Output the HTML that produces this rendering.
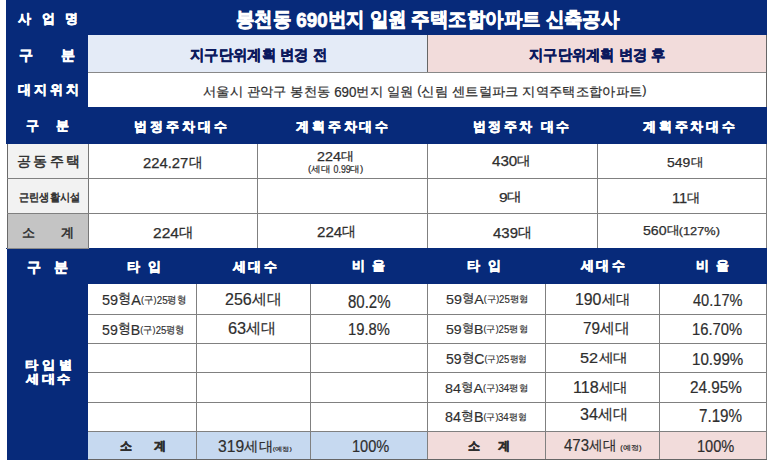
<!DOCTYPE html>
<html><head><meta charset="utf-8"><style>
html,body{margin:0;padding:0;}
body{width:773px;height:464px;overflow:hidden;position:relative;background:#fff;font-family:"Liberation Sans",sans-serif;}
.b{position:absolute;}
.t{position:absolute;white-space:nowrap;line-height:1;transform-origin:0 0;}

</style></head><body>
<div class="b" style="left:6px;top:0px;width:761px;height:460px;background:#072A7A"></div>
<div class="b" style="left:88px;top:35px;width:339px;height:37px;background:#E4EBF7"></div>
<div class="b" style="left:427px;top:35px;width:340px;height:37px;background:#F2DCDB"></div>
<div class="b" style="left:88px;top:72px;width:679px;height:35px;background:#FFFFFF"></div>
<div class="b" style="left:7px;top:144px;width:81px;height:69px;background:#F2F2F2"></div>
<div class="b" style="left:7px;top:213px;width:81px;height:35px;background:#C4C4C4"></div>
<div class="b" style="left:88px;top:144px;width:679px;height:104px;background:#FFFFFF"></div>
<div class="b" style="left:88px;top:284px;width:679px;height:147px;background:#FFFFFF"></div>
<div class="b" style="left:88px;top:431px;width:339px;height:28px;background:#C6D9F0"></div>
<div class="b" style="left:427px;top:431px;width:340px;height:28px;background:#F2DCDB"></div>
<div class="b" style="left:427px;top:35px;width:1px;height:37px;background:#666"></div>
<div class="b" style="left:88px;top:72px;width:679px;height:1px;background:#888"></div>
<div class="b" style="left:766px;top:35px;width:1px;height:72px;background:#666"></div>
<div class="b" style="left:257px;top:144px;width:1px;height:104px;background:#808080"></div>
<div class="b" style="left:427px;top:144px;width:1px;height:104px;background:#808080"></div>
<div class="b" style="left:597px;top:144px;width:1px;height:104px;background:#808080"></div>
<div class="b" style="left:766px;top:144px;width:1px;height:104px;background:#808080"></div>
<div class="b" style="left:6px;top:144px;width:1px;height:104px;background:#FFFFFF"></div>
<div class="b" style="left:6px;top:249px;width:1px;height:211px;background:#FFFFFF"></div>
<div class="b" style="left:7px;top:144px;width:1px;height:104px;background:#6a6a6a"></div>
<div class="b" style="left:88px;top:144px;width:1px;height:104px;background:#777"></div>
<div class="b" style="left:7px;top:248px;width:82px;height:1px;background:#8a8a8a"></div>
<div class="b" style="left:7px;top:178px;width:760px;height:1px;background:#808080"></div>
<div class="b" style="left:7px;top:213px;width:760px;height:1px;background:#808080"></div>
<div class="b" style="left:196px;top:284px;width:1px;height:175px;background:#808080"></div>
<div class="b" style="left:310px;top:284px;width:1px;height:175px;background:#808080"></div>
<div class="b" style="left:427px;top:284px;width:1px;height:175px;background:#808080"></div>
<div class="b" style="left:545px;top:284px;width:1px;height:175px;background:#808080"></div>
<div class="b" style="left:659px;top:284px;width:1px;height:175px;background:#808080"></div>
<div class="b" style="left:766px;top:284px;width:1px;height:176px;background:#808080"></div>
<div class="b" style="left:88px;top:314px;width:679px;height:1px;background:#808080"></div>
<div class="b" style="left:88px;top:343px;width:679px;height:1px;background:#808080"></div>
<div class="b" style="left:88px;top:372px;width:679px;height:1px;background:#808080"></div>
<div class="b" style="left:88px;top:402px;width:679px;height:1px;background:#808080"></div>
<div class="b" style="left:88px;top:431px;width:679px;height:1px;background:#808080"></div>
<div class="b" style="left:88px;top:459px;width:679px;height:1px;background:#666"></div>
<div class="t" style="left:18px;top:12px;font-size:13.30px;font-weight:700;color:#FFFFFF;letter-spacing:3.51px;transform:scaleX(1.0000);-webkit-text-stroke:0.55px #FFFFFF;">사 업 명</div>
<div class="t" style="left:236px;top:10px;font-size:19.58px;font-weight:700;color:#FFFFFF;letter-spacing:0.00px;transform:scaleX(0.9219);-webkit-text-stroke:0.8px #FFFFFF;">봉천동 <span style="font-size:1.04em;vertical-align:-0.070em">690</span>번지 일원 주택조합아파트 신축공사</div>
<div class="t" style="left:19px;top:49px;font-size:13.63px;font-weight:700;color:#FFFFFF;letter-spacing:12.19px;transform:scaleX(1.0000);-webkit-text-stroke:0.55px #FFFFFF;">구 분</div>
<div class="t" style="left:190px;top:48px;font-size:14.89px;font-weight:700;color:#0C1A5E;letter-spacing:0.00px;transform:scaleX(0.9559);-webkit-text-stroke:0.45px #0C1A5E;">지구단위계획 변경 전</div>
<div class="t" style="left:529px;top:47px;font-size:15.11px;font-weight:700;color:#0C1A5E;letter-spacing:0.00px;transform:scaleX(0.9525);-webkit-text-stroke:0.45px #0C1A5E;">지구단위계획 변경 후</div>
<div class="t" style="left:18px;top:83px;font-size:13.33px;font-weight:700;color:#FFFFFF;letter-spacing:2.93px;transform:scaleX(1.0000);-webkit-text-stroke:0.55px #FFFFFF;">대지위치</div>
<div class="t" style="left:203px;top:84px;font-size:13.16px;font-weight:400;color:#2E2E2E;letter-spacing:0.00px;transform:scaleX(1.0249);-webkit-text-stroke:0.2px #2E2E2E;">서울시 관악구 봉천동 <span style="display:inline-block;font-size:1.1em;vertical-align:-0.082em;transform:scaleX(0.9);transform-origin:0 0;margin-right:-0.167em">690</span>번지 일원 <span style="font-size:0.95em;vertical-align:0.147em">(</span>신림 센트럴파크 지역주택조합아파트<span style="font-size:0.95em;vertical-align:0.147em">)</span></div>
<div class="t" style="left:26px;top:119px;font-size:13.08px;font-weight:700;color:#FFFFFF;letter-spacing:6.68px;transform:scaleX(1.0000);-webkit-text-stroke:0.55px #FFFFFF;">구 분</div>
<div class="t" style="left:134px;top:120px;font-size:13.30px;font-weight:700;color:#FFFFFF;letter-spacing:2.98px;transform:scaleX(1.0000);-webkit-text-stroke:0.55px #FFFFFF;">법정주차대수</div>
<div class="t" style="left:296px;top:120px;font-size:13.30px;font-weight:700;color:#FFFFFF;letter-spacing:2.87px;transform:scaleX(1.0000);-webkit-text-stroke:0.55px #FFFFFF;">계획주차대수</div>
<div class="t" style="left:473px;top:120px;font-size:13.30px;font-weight:700;color:#FFFFFF;letter-spacing:2.45px;transform:scaleX(1.0000);-webkit-text-stroke:0.55px #FFFFFF;">법정주차 대수</div>
<div class="t" style="left:643px;top:120px;font-size:13.30px;font-weight:700;color:#FFFFFF;letter-spacing:2.81px;transform:scaleX(1.0000);-webkit-text-stroke:0.55px #FFFFFF;">계획주차대수</div>
<div class="t" style="left:17px;top:155px;font-size:13.74px;font-weight:400;color:#2E2E2E;letter-spacing:2.25px;transform:scaleX(1.0000);-webkit-text-stroke:0.5px #2E2E2E;">공동주택</div>
<div class="t" style="left:143px;top:156px;font-size:12.04px;font-weight:400;color:#2E2E2E;letter-spacing:0.00px;transform:scaleX(1.2299);-webkit-text-stroke:0.25px #2E2E2E;"><span style="display:inline-block;font-size:1.22em;vertical-align:-0.074em;transform:scaleX(0.82);transform-origin:0 0;margin-right:-0.550em">224.27</span><span style="display:inline-block;font-size:1.15em;vertical-align:-0.03em;transform:scaleX(0.8);transform-origin:0 0;margin-right:-0.200em">대</span></div>
<div class="t" style="left:317px;top:150px;font-size:10.58px;font-weight:400;color:#2E2E2E;letter-spacing:0.00px;transform:scaleX(1.3520);-webkit-text-stroke:0.25px #2E2E2E;"><span style="display:inline-block;font-size:1.22em;vertical-align:-0.074em;transform:scaleX(0.82);transform-origin:0 0;margin-right:-0.300em">224</span><span style="display:inline-block;font-size:1.15em;vertical-align:-0.03em;transform:scaleX(0.8);transform-origin:0 0;margin-right:-0.200em">대</span></div>
<div class="t" style="left:308px;top:165px;font-size:9.17px;font-weight:400;color:#2E2E2E;letter-spacing:0.00px;transform:scaleX(1.0659);-webkit-text-stroke:0.2px #2E2E2E;">(세대 <span style="display:inline-block;font-size:1.1em;vertical-align:-0.082em;transform:scaleX(0.82);transform-origin:0 0;margin-right:-0.350em">0.99</span>대)</div>
<div class="t" style="left:492px;top:154px;font-size:11.65px;font-weight:400;color:#2E2E2E;letter-spacing:0.00px;transform:scaleX(1.3012);-webkit-text-stroke:0.25px #2E2E2E;"><span style="display:inline-block;font-size:1.22em;vertical-align:-0.074em;transform:scaleX(0.82);transform-origin:0 0;margin-right:-0.300em">430</span><span style="display:inline-block;font-size:1.15em;vertical-align:-0.03em;transform:scaleX(0.8);transform-origin:0 0;margin-right:-0.200em">대</span></div>
<div class="t" style="left:667px;top:156px;font-size:10.58px;font-weight:400;color:#2E2E2E;letter-spacing:0.00px;transform:scaleX(1.3178);-webkit-text-stroke:0.25px #2E2E2E;"><span style="display:inline-block;font-size:1.22em;vertical-align:-0.074em;transform:scaleX(0.82);transform-origin:0 0;margin-right:-0.300em">549</span><span style="display:inline-block;font-size:1.15em;vertical-align:-0.03em;transform:scaleX(0.8);transform-origin:0 0;margin-right:-0.200em">대</span></div>
<div class="t" style="left:19px;top:192px;font-size:11.00px;font-weight:400;color:#2E2E2E;letter-spacing:0.00px;transform:scaleX(0.9248);-webkit-text-stroke:0.5px #2E2E2E;">근린생활시설</div>
<div class="t" style="left:499px;top:191px;font-size:11.07px;font-weight:400;color:#2E2E2E;letter-spacing:0.00px;transform:scaleX(1.4100);-webkit-text-stroke:0.25px #2E2E2E;"><span style="display:inline-block;font-size:1.22em;vertical-align:-0.074em;transform:scaleX(0.82);transform-origin:0 0;margin-right:-0.100em">9</span><span style="display:inline-block;font-size:1.15em;vertical-align:-0.03em;transform:scaleX(0.8);transform-origin:0 0;margin-right:-0.200em">대</span></div>
<div class="t" style="left:672px;top:191px;font-size:11.55px;font-weight:400;color:#2E2E2E;letter-spacing:0.00px;transform:scaleX(1.2696);-webkit-text-stroke:0.25px #2E2E2E;"><span style="display:inline-block;font-size:1.22em;vertical-align:-0.074em;transform:scaleX(0.82);transform-origin:0 0;margin-right:-0.200em">11</span><span style="display:inline-block;font-size:1.15em;vertical-align:-0.03em;transform:scaleX(0.8);transform-origin:0 0;margin-right:-0.200em">대</span></div>
<div class="t" style="left:22px;top:227px;font-size:12.67px;font-weight:400;color:#2E2E2E;letter-spacing:11.18px;transform:scaleX(1.0000);-webkit-text-stroke:0.5px #2E2E2E;">소 계</div>
<div class="t" style="left:153px;top:226px;font-size:12.04px;font-weight:400;color:#2E2E2E;letter-spacing:0.00px;transform:scaleX(1.2927);-webkit-text-stroke:0.25px #2E2E2E;"><span style="display:inline-block;font-size:1.22em;vertical-align:-0.074em;transform:scaleX(0.82);transform-origin:0 0;margin-right:-0.300em">224</span><span style="display:inline-block;font-size:1.15em;vertical-align:-0.03em;transform:scaleX(0.8);transform-origin:0 0;margin-right:-0.200em">대</span></div>
<div class="t" style="left:317px;top:225px;font-size:12.14px;font-weight:400;color:#2E2E2E;letter-spacing:0.00px;transform:scaleX(1.2474);-webkit-text-stroke:0.25px #2E2E2E;"><span style="display:inline-block;font-size:1.22em;vertical-align:-0.074em;transform:scaleX(0.82);transform-origin:0 0;margin-right:-0.300em">224</span><span style="display:inline-block;font-size:1.15em;vertical-align:-0.03em;transform:scaleX(0.8);transform-origin:0 0;margin-right:-0.200em">대</span></div>
<div class="t" style="left:493px;top:226px;font-size:12.04px;font-weight:400;color:#2E2E2E;letter-spacing:0.00px;transform:scaleX(1.2433);-webkit-text-stroke:0.25px #2E2E2E;"><span style="display:inline-block;font-size:1.22em;vertical-align:-0.074em;transform:scaleX(0.82);transform-origin:0 0;margin-right:-0.300em">439</span><span style="display:inline-block;font-size:1.15em;vertical-align:-0.03em;transform:scaleX(0.8);transform-origin:0 0;margin-right:-0.200em">대</span></div>
<div class="t" style="left:643px;top:224px;font-size:10.70px;font-weight:400;color:#2E2E2E;letter-spacing:0.00px;transform:scaleX(1.3235);-webkit-text-stroke:0.25px #2E2E2E;"><span style="display:inline-block;font-size:1.22em;vertical-align:-0.074em;transform:scaleX(0.82);transform-origin:0 0;margin-right:-0.300em">560</span><span style="display:inline-block;font-size:1.15em;vertical-align:-0.03em;transform:scaleX(0.8);transform-origin:0 0;margin-right:-0.200em">대</span><span style="display:inline-block;font-size:1.1em;vertical-align:-0.082em;transform:scaleX(0.82);transform-origin:0 0;margin-right:-0.580em">(127%)</span></div>
<div class="t" style="left:27px;top:261px;font-size:13.63px;font-weight:700;color:#FFFFFF;letter-spacing:4.81px;transform:scaleX(1.0000);-webkit-text-stroke:0.55px #FFFFFF;">구 분</div>
<div class="t" style="left:127px;top:260px;font-size:13.19px;font-weight:700;color:#FFFFFF;letter-spacing:2.40px;transform:scaleX(1.0000);-webkit-text-stroke:0.55px #FFFFFF;">타 입</div>
<div class="t" style="left:233px;top:260px;font-size:13.33px;font-weight:700;color:#FFFFFF;letter-spacing:2.27px;transform:scaleX(1.0000);-webkit-text-stroke:0.55px #FFFFFF;">세대수</div>
<div class="t" style="left:352px;top:259px;font-size:13.33px;font-weight:700;color:#FFFFFF;letter-spacing:1.48px;transform:scaleX(1.0000);-webkit-text-stroke:0.55px #FFFFFF;">비 율</div>
<div class="t" style="left:467px;top:260px;font-size:12.66px;font-weight:700;color:#FFFFFF;letter-spacing:2.00px;transform:scaleX(1.0000);-webkit-text-stroke:0.55px #FFFFFF;">타 입</div>
<div class="t" style="left:581px;top:259px;font-size:13.33px;font-weight:700;color:#FFFFFF;letter-spacing:2.27px;transform:scaleX(1.0000);-webkit-text-stroke:0.55px #FFFFFF;">세대수</div>
<div class="t" style="left:696px;top:259px;font-size:13.33px;font-weight:700;color:#FFFFFF;letter-spacing:1.48px;transform:scaleX(1.0000);-webkit-text-stroke:0.55px #FFFFFF;">비 율</div>
<div class="t" style="left:25px;top:359px;font-size:12.02px;font-weight:700;color:#FFFFFF;letter-spacing:3.29px;transform:scaleX(1.1000);-webkit-text-stroke:0.55px #FFFFFF;">타입별</div>
<div class="t" style="left:26px;top:373px;font-size:12.15px;font-weight:700;color:#FFFFFF;letter-spacing:2.22px;transform:scaleX(1.1000);-webkit-text-stroke:0.55px #FFFFFF;">세대수</div>
<div class="t" style="left:102px;top:292px;font-size:13.67px;font-weight:400;color:#2E2E2E;letter-spacing:0.00px;transform:scaleX(0.9460);-webkit-text-stroke:0.15px #2E2E2E;"><span style="font-size:1.12em;vertical-align:-0.116em">59</span>형<span style="font-size:1.12em;vertical-align:-0.116em">A</span><span style="font-size:0.7em">(구)<span style="display:inline-block;font-size:1.2em;vertical-align:-0.075em;transform:scaleX(0.9);transform-origin:0 0;margin-right:-0.111em">25</span>평형</span></div>
<div class="t" style="left:225px;top:291px;font-size:13.74px;font-weight:400;color:#2E2E2E;letter-spacing:0.00px;transform:scaleX(1.1647);-webkit-text-stroke:0.2px #2E2E2E;"><span style="display:inline-block;font-size:1.22em;vertical-align:-0.074em;transform:scaleX(0.82);transform-origin:0 0;margin-right:-0.300em">256</span><span style="display:inline-block;font-size:1.1em;vertical-align:-0.03em;transform:scaleX(0.85);transform-origin:0 0;margin-right:-0.300em">세대</span></div>
<div class="t" style="left:348px;top:294px;font-size:17.46px;font-weight:400;color:#2E2E2E;letter-spacing:0.00px;transform:scaleX(0.8611);-webkit-text-stroke:0.2px #2E2E2E;">80.2%</div>
<div class="t" style="left:446px;top:292px;font-size:12.22px;font-weight:400;color:#2E2E2E;letter-spacing:0.00px;transform:scaleX(1.0416);-webkit-text-stroke:0.15px #2E2E2E;"><span style="font-size:1.12em;vertical-align:-0.116em">59</span>형<span style="font-size:1.12em;vertical-align:-0.116em">A</span><span style="font-size:0.7em">(구)<span style="display:inline-block;font-size:1.2em;vertical-align:-0.075em;transform:scaleX(0.9);transform-origin:0 0;margin-right:-0.111em">25</span>평형</span></div>
<div class="t" style="left:575px;top:292px;font-size:13.13px;font-weight:400;color:#2E2E2E;letter-spacing:0.00px;transform:scaleX(1.2075);-webkit-text-stroke:0.2px #2E2E2E;"><span style="display:inline-block;font-size:1.22em;vertical-align:-0.074em;transform:scaleX(0.82);transform-origin:0 0;margin-right:-0.300em">190</span><span style="display:inline-block;font-size:1.1em;vertical-align:-0.03em;transform:scaleX(0.85);transform-origin:0 0;margin-right:-0.300em">세대</span></div>
<div class="t" style="left:693px;top:293px;font-size:16.62px;font-weight:400;color:#2E2E2E;letter-spacing:0.00px;transform:scaleX(0.8789);-webkit-text-stroke:0.2px #2E2E2E;">40.17%</div>
<div class="t" style="left:102px;top:322px;font-size:13.67px;font-weight:400;color:#2E2E2E;letter-spacing:0.00px;transform:scaleX(0.9264);-webkit-text-stroke:0.15px #2E2E2E;"><span style="font-size:1.12em;vertical-align:-0.116em">59</span>형<span style="font-size:1.12em;vertical-align:-0.116em">B</span><span style="font-size:0.7em">(구)<span style="display:inline-block;font-size:1.2em;vertical-align:-0.075em;transform:scaleX(0.9);transform-origin:0 0;margin-right:-0.111em">25</span>평형</span></div>
<div class="t" style="left:228px;top:320px;font-size:13.84px;font-weight:400;color:#2E2E2E;letter-spacing:0.00px;transform:scaleX(1.1798);-webkit-text-stroke:0.2px #2E2E2E;"><span style="display:inline-block;font-size:1.22em;vertical-align:-0.074em;transform:scaleX(0.82);transform-origin:0 0;margin-right:-0.200em">63</span><span style="display:inline-block;font-size:1.1em;vertical-align:-0.03em;transform:scaleX(0.85);transform-origin:0 0;margin-right:-0.300em">세대</span></div>
<div class="t" style="left:348px;top:322px;font-size:16.76px;font-weight:400;color:#2E2E2E;letter-spacing:0.00px;transform:scaleX(0.8804);-webkit-text-stroke:0.2px #2E2E2E;">19.8%</div>
<div class="t" style="left:446px;top:322px;font-size:12.22px;font-weight:400;color:#2E2E2E;letter-spacing:0.00px;transform:scaleX(1.0316);-webkit-text-stroke:0.15px #2E2E2E;"><span style="font-size:1.12em;vertical-align:-0.116em">59</span>형<span style="font-size:1.12em;vertical-align:-0.116em">B</span><span style="font-size:0.7em">(구)<span style="display:inline-block;font-size:1.2em;vertical-align:-0.075em;transform:scaleX(0.9);transform-origin:0 0;margin-right:-0.111em">25</span>평형</span></div>
<div class="t" style="left:583px;top:320px;font-size:13.23px;font-weight:400;color:#2E2E2E;letter-spacing:0.00px;transform:scaleX(1.1564);-webkit-text-stroke:0.2px #2E2E2E;"><span style="display:inline-block;font-size:1.22em;vertical-align:-0.074em;transform:scaleX(0.82);transform-origin:0 0;margin-right:-0.200em">79</span><span style="display:inline-block;font-size:1.1em;vertical-align:-0.03em;transform:scaleX(0.85);transform-origin:0 0;margin-right:-0.300em">세대</span></div>
<div class="t" style="left:692px;top:322px;font-size:15.92px;font-weight:400;color:#2E2E2E;letter-spacing:0.00px;transform:scaleX(0.9309);-webkit-text-stroke:0.2px #2E2E2E;">16.70%</div>
<div class="t" style="left:446px;top:352px;font-size:12.89px;font-weight:400;color:#2E2E2E;letter-spacing:0.00px;transform:scaleX(0.9748);-webkit-text-stroke:0.15px #2E2E2E;"><span style="font-size:1.12em;vertical-align:-0.116em">59</span>형<span style="font-size:1.12em;vertical-align:-0.116em">C</span><span style="font-size:0.7em">(구)<span style="display:inline-block;font-size:1.2em;vertical-align:-0.075em;transform:scaleX(0.9);transform-origin:0 0;margin-right:-0.111em">25</span>평형</span></div>
<div class="t" style="left:580px;top:351px;font-size:12.22px;font-weight:400;color:#2E2E2E;letter-spacing:0.00px;transform:scaleX(1.3313);-webkit-text-stroke:0.2px #2E2E2E;"><span style="display:inline-block;font-size:1.22em;vertical-align:-0.074em;transform:scaleX(0.82);transform-origin:0 0;margin-right:-0.200em">52</span><span style="display:inline-block;font-size:1.1em;vertical-align:-0.03em;transform:scaleX(0.85);transform-origin:0 0;margin-right:-0.300em">세대</span></div>
<div class="t" style="left:692px;top:351px;font-size:16.20px;font-weight:400;color:#2E2E2E;letter-spacing:0.00px;transform:scaleX(0.9338);-webkit-text-stroke:0.2px #2E2E2E;">10.99%</div>
<div class="t" style="left:445px;top:381px;font-size:12.22px;font-weight:400;color:#2E2E2E;letter-spacing:0.00px;transform:scaleX(1.0478);-webkit-text-stroke:0.15px #2E2E2E;"><span style="font-size:1.12em;vertical-align:-0.116em">84</span>형<span style="font-size:1.12em;vertical-align:-0.116em">A</span><span style="font-size:0.7em">(구)<span style="display:inline-block;font-size:1.2em;vertical-align:-0.075em;transform:scaleX(0.9);transform-origin:0 0;margin-right:-0.111em">34</span>평형</span></div>
<div class="t" style="left:573px;top:380px;font-size:13.13px;font-weight:400;color:#2E2E2E;letter-spacing:0.00px;transform:scaleX(1.2307);-webkit-text-stroke:0.2px #2E2E2E;"><span style="display:inline-block;font-size:1.22em;vertical-align:-0.074em;transform:scaleX(0.82);transform-origin:0 0;margin-right:-0.300em">118</span><span style="display:inline-block;font-size:1.1em;vertical-align:-0.03em;transform:scaleX(0.85);transform-origin:0 0;margin-right:-0.300em">세대</span></div>
<div class="t" style="left:690px;top:380px;font-size:16.76px;font-weight:400;color:#2E2E2E;letter-spacing:0.00px;transform:scaleX(0.9143);-webkit-text-stroke:0.2px #2E2E2E;">24.95%</div>
<div class="t" style="left:445px;top:410px;font-size:12.78px;font-weight:400;color:#2E2E2E;letter-spacing:0.00px;transform:scaleX(0.9990);-webkit-text-stroke:0.15px #2E2E2E;"><span style="font-size:1.12em;vertical-align:-0.116em">84</span>형<span style="font-size:1.12em;vertical-align:-0.116em">B</span><span style="font-size:0.7em">(구)<span style="display:inline-block;font-size:1.2em;vertical-align:-0.075em;transform:scaleX(0.9);transform-origin:0 0;margin-right:-0.111em">34</span>평형</span></div>
<div class="t" style="left:580px;top:406px;font-size:13.54px;font-weight:400;color:#2E2E2E;letter-spacing:0.00px;transform:scaleX(1.1895);-webkit-text-stroke:0.2px #2E2E2E;"><span style="display:inline-block;font-size:1.22em;vertical-align:-0.074em;transform:scaleX(0.82);transform-origin:0 0;margin-right:-0.200em">34</span><span style="display:inline-block;font-size:1.1em;vertical-align:-0.03em;transform:scaleX(0.85);transform-origin:0 0;margin-right:-0.300em">세대</span></div>
<div class="t" style="left:699px;top:408px;font-size:17.61px;font-weight:400;color:#2E2E2E;letter-spacing:0.00px;transform:scaleX(0.8622);-webkit-text-stroke:0.2px #2E2E2E;">7.19%</div>
<div class="t" style="left:120px;top:440px;font-size:12.47px;font-weight:700;color:#2E2E2E;letter-spacing:9.35px;transform:scaleX(1.0000);-webkit-text-stroke:0.45px #2E2E2E;">소 계</div>
<div class="t" style="left:218px;top:439px;font-size:13.03px;font-weight:400;color:#2E2E2E;letter-spacing:0.00px;transform:scaleX(1.2033);-webkit-text-stroke:0.2px #2E2E2E;"><span style="display:inline-block;font-size:1.22em;vertical-align:-0.074em;transform:scaleX(0.82);transform-origin:0 0;margin-right:-0.300em">319</span><span style="display:inline-block;font-size:1.1em;vertical-align:-0.03em;transform:scaleX(0.85);transform-origin:0 0;margin-right:-0.300em">세대</span><span style="font-size:0.45em">(예정)</span></div>
<div class="t" style="left:352px;top:438px;font-size:16.34px;font-weight:400;color:#2E2E2E;letter-spacing:0.00px;transform:scaleX(0.8941);-webkit-text-stroke:0.2px #2E2E2E;">100%</div>
<div class="t" style="left:468px;top:440px;font-size:12.47px;font-weight:700;color:#2E2E2E;letter-spacing:7.47px;transform:scaleX(1.0000);-webkit-text-stroke:0.45px #2E2E2E;">소 계</div>
<div class="t" style="left:564px;top:438px;font-size:13.03px;font-weight:400;color:#2E2E2E;letter-spacing:0.00px;transform:scaleX(1.1486);-webkit-text-stroke:0.2px #2E2E2E;"><span style="display:inline-block;font-size:1.22em;vertical-align:-0.074em;transform:scaleX(0.82);transform-origin:0 0;margin-right:-0.300em">473</span><span style="display:inline-block;font-size:1.1em;vertical-align:-0.03em;transform:scaleX(0.85);transform-origin:0 0;margin-right:-0.300em">세대</span> <span style="font-size:0.5em">(예정)</span></div>
<div class="t" style="left:697px;top:438px;font-size:16.34px;font-weight:400;color:#2E2E2E;letter-spacing:0.00px;transform:scaleX(0.8941);-webkit-text-stroke:0.2px #2E2E2E;">100%</div>
</body></html>
